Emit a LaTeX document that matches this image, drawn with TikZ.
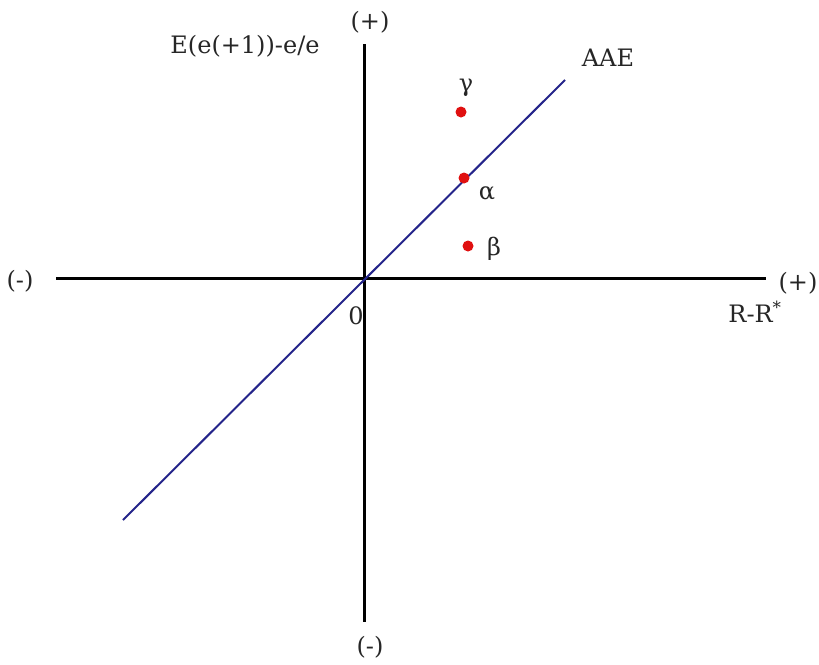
\documentclass[tikz,border=0pt]{standalone}
\usepackage{fontspec}
\setmainfont{DejaVu Serif}
\usetikzlibrary{positioning}
\definecolor{aae-blue}{HTML}{24248A}
\definecolor{pt-red}{HTML}{E01010}

\begin{document}
\begin{tikzpicture}[x=1pt, y=-1pt,
    axis/.style={line width=3pt, black},
    lbl/.style={font=\fontsize{24}{28}\selectfont, inner sep=0pt, text=black!85},
    dot/.style={circle, fill=pt-red, inner sep=0pt, minimum size=11pt}]
    \useasboundingbox (0,0) rectangle (819,664);

    % --- EIXOS ---
    \coordinate (xl) at (56,278);
    \coordinate (xr) at (766,278);
    \coordinate (yt) at (364,44);
    \coordinate (yb) at (364,622);
    \draw[axis] (xl) -- (xr);
    \draw[axis] (yt) -- (yb);

    % --- RETA AAE ---
    \coordinate (aaelo) at (123,520);
    \coordinate (aaehi) at (565,80);
    \draw[aae-blue, line width=2pt] (aaelo) -- (aaehi);

    % --- PONTOS ---
    \node[dot] (gamma) at (461,112) {};
    \node[dot] (alpha) at (464,178) {};
    \node[dot] (beta)  at (468,246) {};
    \node[lbl] (lgamma) at (466,88)  {γ};
    \node[lbl] (lalpha) at (487,193) {α};
    \node[lbl] (lbeta)  at (494,249) {β};

    % --- ROTULOS ---
    \node[lbl] (ylab) at (245,46) {E(e(+1))-e/e};
    \node[lbl] (ypos) at (370,22) {(+)};
    \node[lbl] (yneg) at (370,647) {(-)};
    \node[lbl] (xneg) at (20,281) {(-)};
    \node[lbl] (xpos) at (798,283) {(+)};
    \node[lbl] (xlab) at (755,312) {R-R\textsuperscript{*}};
    \node[lbl] (zero) at (356,316) {0};
    \node[lbl] (aae)  at (608,58) {AAE};

\end{tikzpicture}
\end{document}
